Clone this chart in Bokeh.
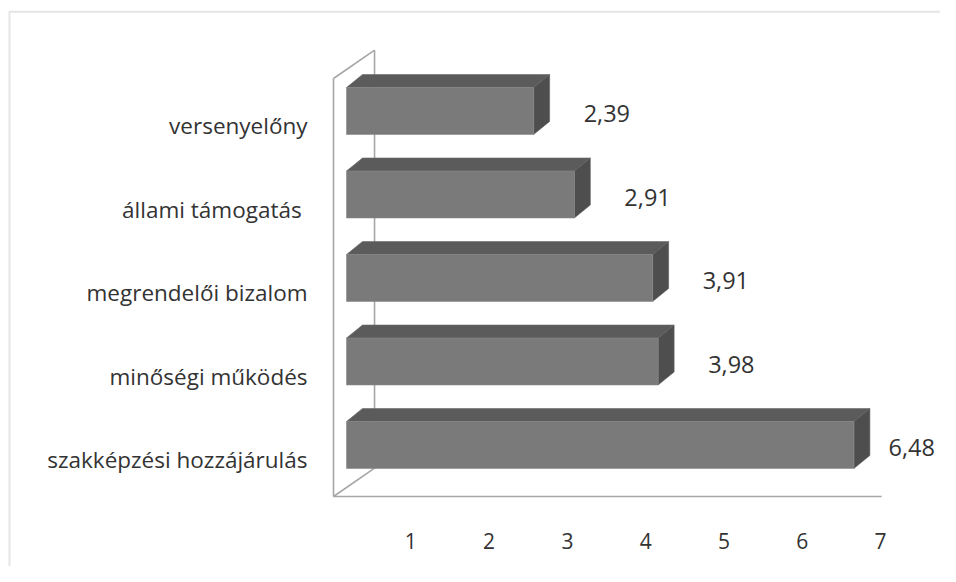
from bokeh.plotting import figure
from bokeh.models import ColumnDataSource, BoxAnnotation, Range1d
from bokeh.core.properties import value
from bokeh.embed import file_html
from bokeh.resources import INLINE

# ---- data (bottom to top) ----
categories = ["szakképzési hozzájárulás", "minőségi működés", "megrendelői bizalom",
              "állami támogatás ", "versenyelőny"]
values = [6.48, 3.98, 3.91, 2.91, 2.39]
value_labels = ["6,48", "3,98", "3,91", "2,91", "2,39"]
ticks = [1, 2, 3, 4, 5, 6, 7]
tick_labels = ["1", "2", "3", "4", "5", "6", "7"]
x_max = 7

# ---- 3D styling constants (in data units) ----
H = 0.281        # half height of bar front face
F_DX = 0.166     # bar front face set-back along x
D_X = 0.204      # bar depth in x
D_Y = 0.156      # bar depth in y
WALL_DX = 0.524  # wall depth in x
WALL_DY = 0.34   # wall depth in y
Y_FLOOR = -0.617
Y_TOP = len(categories) - 1 + 0.389

FONT = "Open Sans"
TXT = "#333333"

W, HT = 940, 566
X0, X1 = -4.253, 7.752
pos = list(range(len(categories)))

p = figure(width=W, height=HT, output_backend="svg", toolbar_location=None,
           x_range=Range1d(X0, X1), y_range=Range1d(-1.455, 5.3234),
           x_axis_location=None, y_axis_location=None, min_border=0)
p.grid.visible = False
p.outline_line_color = None
p.background_fill_color = "white"
p.border_fill_color = "white"

# outer chart border (right/bottom outside the picture)
p.add_layout(BoxAnnotation(left=-4.138, top=5.19, right=100, bottom=-100,
                           fill_alpha=0, line_color="#a8a8a8", line_width=2))

# walls / floor lines
wall_col = "#a6a6a6"
p.multi_line(xs=[[0, 0], [0, WALL_DX], [WALL_DX, WALL_DX], [0, WALL_DX], [0, x_max]],
             ys=[[Y_FLOOR, Y_TOP], [Y_TOP, Y_TOP + WALL_DY],
                 [Y_FLOOR + WALL_DY, Y_TOP + WALL_DY],
                 [Y_FLOOR, Y_FLOOR + WALL_DY], [Y_FLOOR, Y_FLOOR]],
             line_color=wall_col, line_width=1.6)

# bars: top face, side face, front face
top_xs, top_ys, side_xs, side_ys = [], [], [], []
for v, y in zip(values, pos):
    r = v + F_DX
    top_xs.append([F_DX, F_DX + D_X, r + D_X, r])
    top_ys.append([y + H, y + H + D_Y, y + H + D_Y, y + H])
    side_xs.append([r, r + D_X, r + D_X, r])
    side_ys.append([y + H, y + H + D_Y, y - H + D_Y, y - H])

p.patches(top_xs, top_ys, fill_color="#5b5b5b", line_color="#6a6a6a", line_width=0.6)
p.patches(side_xs, side_ys, fill_color="#4e4e4e", line_color="#606060", line_width=0.6)
p.hbar(y=pos, left=F_DX, right=[v + F_DX for v in values], height=2 * H,
       fill_color="#7a7a7a", line_color="#8a8a8a", line_width=0.6)

# category labels
src_c = ColumnDataSource(dict(x=[0] * len(pos), y=pos, t=categories))
p.text(x="x", y="y", text="t", source=src_c, x_offset=-26, y_offset=14.5,
       text_align="right", text_baseline="middle", text_font=value(FONT),
       text_font_size="22.5px", text_color=TXT)

# value labels (kept inside the canvas)
px_per_unit = W / (X1 - X0)
label_w = 47
xo = [min(63, (W - 5 - label_w) - (v - X0) * px_per_unit) for v in values]
src_v = ColumnDataSource(dict(x=values, y=pos, t=value_labels, xo=xo))
p.text(x="x", y="y", text="t", source=src_v, x_offset="xo", y_offset=2.5,
       text_align="left", text_baseline="middle", text_font=value(FONT),
       text_font_size="23.5px", text_color=TXT)

# value axis tick labels
src_t = ColumnDataSource(dict(x=ticks, y=[Y_FLOOR] * len(ticks), t=tick_labels))
p.text(x="x", y="y", text="t", source=src_t, x_offset=-1, y_offset=44,
       text_align="center", text_baseline="middle", text_font=value(FONT),
       text_font_size="21px", text_color=TXT)

open("out.html", "w").write(file_html(p, INLINE))
